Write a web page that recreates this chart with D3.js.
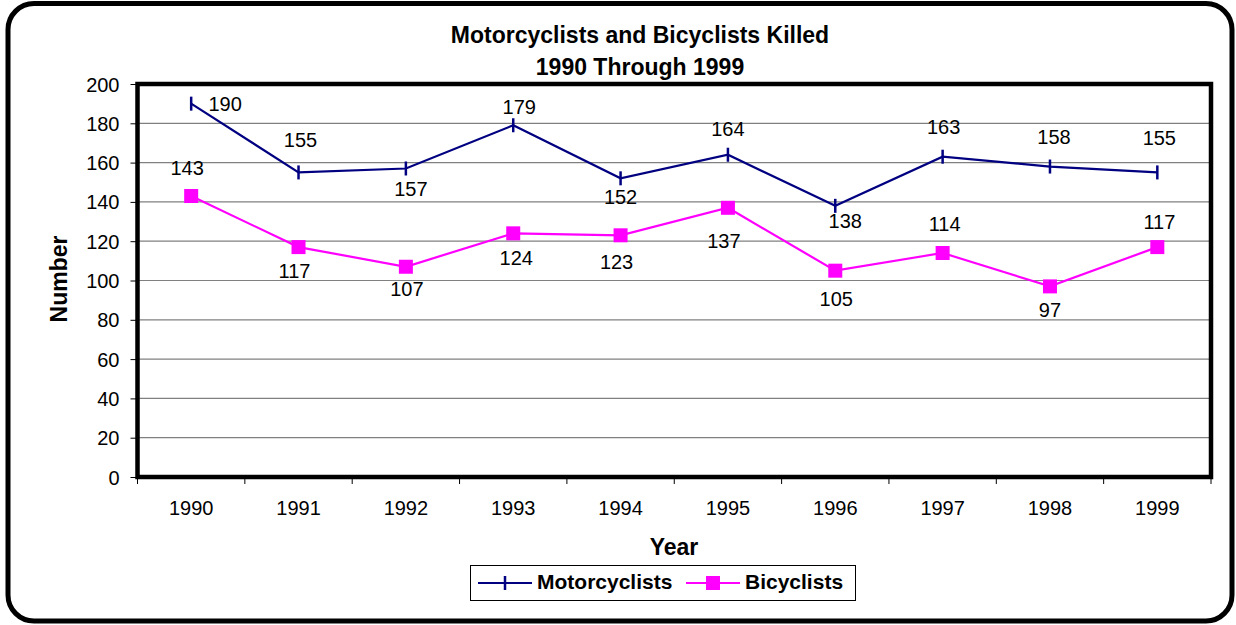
<!DOCTYPE html>
<html><head><meta charset="utf-8">
<script src="https://cdn.jsdelivr.net/npm/d3@7"></script>
<style>body{margin:0;background:#fff}svg{display:block;font-family:Arial,"Liberation Sans",sans-serif}</style>
</head><body>
<svg id="c" width="1236" height="625"></svg>
<script>
const years = ["1990","1991","1992","1993","1994","1995","1996","1997","1998","1999"];
const motorcyclists = [190,155,157,179,152,164,138,163,158,155];
const bicyclists = [143,117,107,124,123,137,105,114,97,117];
const yTicks = [0,20,40,60,80,100,120,140,160,180,200];
// label offsets (px) relative to each point
const motoLabelOffsets = [[34,0],[2,-32],[5,21],[6,-18],[0,19],[0,-26],[10,15],[1,-30],[4,-30],[2,-34]];
const bikeLabelOffsets = [[-4,-28],[-4,24],[1,22],[3,25],[-4,27],[-4,33],[1,28],[2,-29],[0,24],[2,-25]];

const svg = d3.select("#c");
const L=137.5, R=1211, T=84, B=477;
const x = d3.scaleBand().domain(years).range([L,R]).padding(0);
const y = d3.scaleLinear().domain([0,200]).range([B,T]);
const cx = d => x(d)+x.bandwidth()/2;

// outer border
svg.append("rect").attr("x",8).attr("y",3.5).attr("width",1224).attr("height",617.5)
  .attr("rx",26).attr("fill","#fff").attr("stroke","#000").attr("stroke-width",5);

// gridlines
svg.append("g").selectAll("line").data(yTicks.slice(1)).join("line")
  .attr("x1",L).attr("x2",R).attr("y1",d=>y(d)).attr("y2",d=>y(d))
  .attr("stroke","#808080").attr("stroke-width",1.2);

// y axis
const yAxis = svg.append("g").attr("transform",`translate(${L},0)`)
  .call(d3.axisLeft(y).tickValues(yTicks).tickSize(7).tickPadding(11));
yAxis.select(".domain").remove();
yAxis.selectAll("line").attr("stroke","#000");
yAxis.selectAll("text").attr("font-size",20).attr("font-family","Arial, Liberation Sans, sans-serif").attr("fill","#000").attr("dy","0.35em");

// x axis ticks at category boundaries
const bounds = years.map(d=>x(d)).concat([R]);
svg.append("g").selectAll("line").data(bounds).join("line")
  .attr("x1",d=>d).attr("x2",d=>d).attr("y1",B).attr("y2",B+7).attr("stroke","#000").attr("stroke-width",1);
svg.append("g").selectAll("text").data(years).join("text")
  .attr("x",d=>cx(d)).attr("y",515).attr("text-anchor","middle").attr("font-size",20).text(d=>d);

// plot border
svg.append("rect").attr("x",L).attr("y",T).attr("width",R-L).attr("height",B-T)
  .attr("fill","none").attr("stroke","#000").attr("stroke-width",4.5);

// lines
const line = d3.line().x((d,i)=>cx(years[i])).y(d=>y(d));
svg.append("path").datum(motorcyclists).attr("d",line).attr("fill","none").attr("stroke","#000080").attr("stroke-width",2.2);
svg.append("path").datum(bicyclists).attr("d",line).attr("fill","none").attr("stroke","#FF00FF").attr("stroke-width",2.2);

// markers
svg.append("g").selectAll("line").data(motorcyclists).join("line")
  .attr("x1",(d,i)=>cx(years[i])).attr("x2",(d,i)=>cx(years[i]))
  .attr("y1",d=>y(d)-7).attr("y2",d=>y(d)+7).attr("stroke","#000080").attr("stroke-width",2.5);
svg.append("g").selectAll("rect").data(bicyclists).join("rect")
  .attr("x",(d,i)=>cx(years[i])-7).attr("y",d=>y(d)-7).attr("width",14).attr("height",14).attr("fill","#FF00FF");

// data labels
svg.append("g").selectAll("text").data(motorcyclists).join("text")
  .attr("x",(d,i)=>cx(years[i])+motoLabelOffsets[i][0]).attr("y",(d,i)=>y(d)+motoLabelOffsets[i][1])
  .attr("dy","0.35em").attr("text-anchor","middle").attr("font-size",20).text(d=>d);
svg.append("g").selectAll("text").data(bicyclists).join("text")
  .attr("x",(d,i)=>cx(years[i])+bikeLabelOffsets[i][0]).attr("y",(d,i)=>y(d)+bikeLabelOffsets[i][1])
  .attr("dy","0.35em").attr("text-anchor","middle").attr("font-size",20).text(d=>d);

// titles
svg.append("text").attr("x",640).attr("y",42.5).attr("text-anchor","middle").attr("font-size",23).attr("font-weight","bold").text("Motorcyclists and Bicyclists Killed");
svg.append("text").attr("x",640).attr("y",75).attr("text-anchor","middle").attr("font-size",23).attr("font-weight","bold").text("1990 Through 1999");
svg.append("text").attr("transform","translate(67,279) rotate(-90)").attr("text-anchor","middle").attr("font-size",23).attr("font-weight","bold").text("Number");
svg.append("text").attr("x",674).attr("y",555).attr("text-anchor","middle").attr("font-size",23).attr("font-weight","bold").text("Year");

// legend
const lg = svg.append("g");
lg.append("rect").attr("x",470.5).attr("y",565.5).attr("width",385).attr("height",35).attr("fill","#fff").attr("stroke","#000").attr("stroke-width",1);
lg.append("line").attr("x1",478).attr("x2",532).attr("y1",583).attr("y2",583).attr("stroke","#000080").attr("stroke-width",2.2);
lg.append("line").attr("x1",505).attr("x2",505).attr("y1",576).attr("y2",590).attr("stroke","#000080").attr("stroke-width",2.5);
lg.append("text").attr("x",537).attr("y",589).attr("font-size",21).attr("font-weight","bold").text("Motorcyclists");
lg.append("line").attr("x1",686).attr("x2",740).attr("y1",583).attr("y2",583).attr("stroke","#FF00FF").attr("stroke-width",2.2);
lg.append("rect").attr("x",706).attr("y",576).attr("width",14).attr("height",14).attr("fill","#FF00FF");
lg.append("text").attr("x",745).attr("y",589).attr("font-size",21).attr("font-weight","bold").text("Bicyclists");
</script>
</body></html>
